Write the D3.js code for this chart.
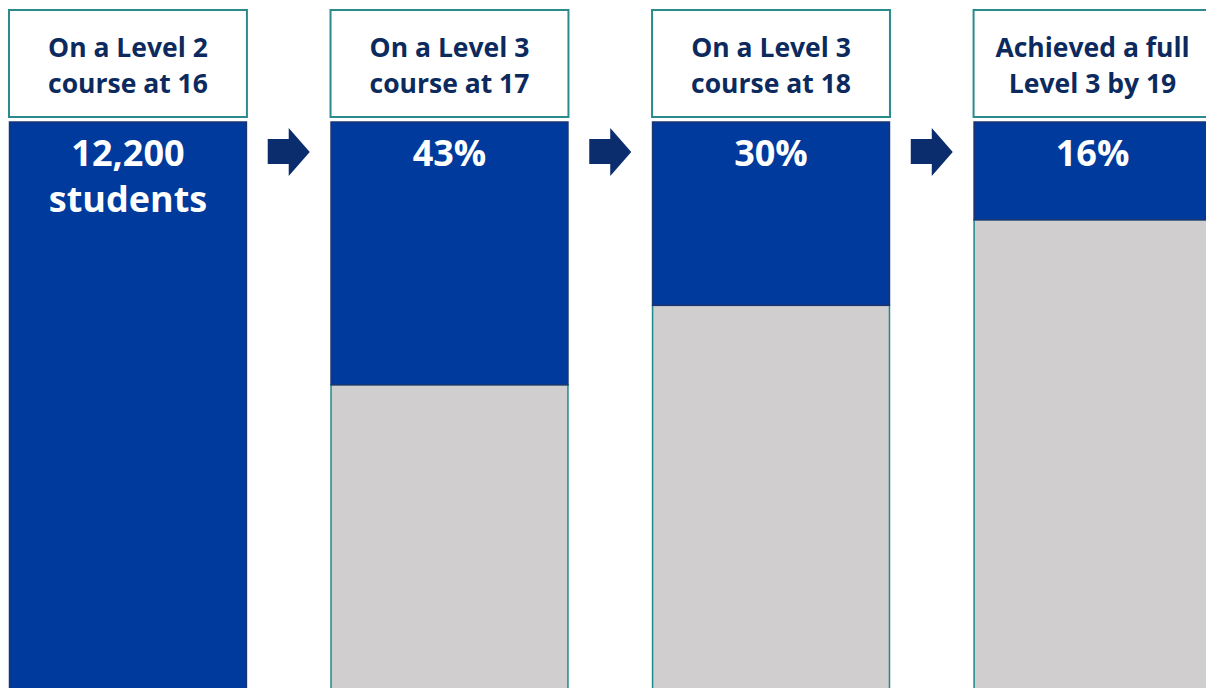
<!DOCTYPE html>
<html>
<head>
<meta charset="utf-8">
<script src="https://cdn.jsdelivr.net/npm/d3@7"></script>
<style>
  html, body { margin: 0; padding: 0; background: #ffffff; overflow: hidden; }
</style>
</head>
<body>
<div class="visHolder"></div>
<script>
// Stage labels (two lines each)
const stages = [
  ["On a Level 2", "course at 16"],
  ["On a Level 3", "course at 17"],
  ["On a Level 3", "course at 18"],
  ["Achieved a full", "Level 3 by 19"]
];
// Share of the original cohort still on track (%)
const shares = [100, 43, 30, 16];
// Text shown in the blue part
const valueLabels = [
  ["12,200", "students"],
  ["43%"],
  ["30%"],
  ["16%"]
];

const width = 1206;
const height = 688;

const svg = d3
  .select(".visHolder")
  .append("svg")
  .attr("width", width)
  .attr("height", height);

// Columns
const xScale = d3
  .scaleBand()
  .domain(d3.range(stages.length))
  .range([9, 1211.5])
  .paddingInner(0.26)
  .paddingOuter(0);

// Share from the top of the bar
const barTop = 122;
const yScale = d3.scaleLinear().domain([0, 100]).range([barTop, 733]);

const fontFamily = "'Open Sans', 'Noto Sans', sans-serif";

// Header boxes
svg
  .selectAll("rect.header")
  .data(stages)
  .enter()
  .append("rect")
  .attr("class", "header")
  .attr("x", (d, i) => xScale(i))
  .attr("y", 10)
  .attr("width", xScale.bandwidth())
  .attr("height", 107)
  .attr("fill", "#ffffff")
  .attr("stroke", "#2b8a8c")
  .attr("stroke-width", 2);

const headerText = svg
  .selectAll("text.header")
  .data(stages)
  .enter()
  .append("text")
  .attr("class", "header")
  .attr("x", (d, i) => xScale(i) + xScale.bandwidth() / 2)
  .attr("text-anchor", "middle")
  .style("font-family", fontFamily)
  .style("font-weight", "bold")
  .style("font-size", "26.5px")
  .attr("fill", "#0c2a5e");

headerText
  .selectAll("tspan")
  .data((d) => d)
  .enter()
  .append("tspan")
  .attr("x", function () {
    return d3.select(this.parentNode).attr("x");
  })
  .attr("y", (d, j) => 57 + j * 36)
  .text((d) => d);

// Grey remainder
svg
  .selectAll("rect.rest")
  .data(shares)
  .enter()
  .append("rect")
  .attr("class", "rest")
  .attr("x", (d, i) => xScale(i) + 0.5)
  .attr("y", (d) => yScale(d))
  .attr("width", xScale.bandwidth() - 1)
  .attr("height", (d) => yScale(100) - yScale(d))
  .attr("fill", "#d0cece")
  .attr("stroke", "#1f8a8c")
  .attr("stroke-width", 1.5);

// Blue share
svg
  .selectAll("rect.share")
  .data(shares)
  .enter()
  .append("rect")
  .attr("class", "share")
  .attr("x", (d, i) => xScale(i) + 0.5)
  .attr("y", barTop)
  .attr("width", xScale.bandwidth() - 1)
  .attr("height", (d) => yScale(d) - barTop)
  .attr("fill", "#003a9c")
  .attr("stroke", "#1c3470")
  .attr("stroke-width", 1.5);

// Values
const valueText = svg
  .selectAll("text.value")
  .data(valueLabels)
  .enter()
  .append("text")
  .attr("class", "value")
  .attr("x", (d, i) => xScale(i) + xScale.bandwidth() / 2)
  .attr("text-anchor", "middle")
  .style("font-family", fontFamily)
  .style("font-weight", "bold")
  .style("font-size", "36px")
  .attr("fill", "#ffffff");

valueText
  .selectAll("tspan")
  .data((d) => d)
  .enter()
  .append("tspan")
  .attr("x", function () {
    return d3.select(this.parentNode).attr("x");
  })
  .attr("y", (d, j) => 166 + j * 46)
  .text((d) => d);

// Arrows between columns
const arrow = d3.path();
arrow.moveTo(-21, -13);
arrow.lineTo(0, -13);
arrow.lineTo(0, -24);
arrow.lineTo(21, 0);
arrow.lineTo(0, 24);
arrow.lineTo(0, 12);
arrow.lineTo(-21, 12);
arrow.closePath();

svg
  .selectAll("path.arrow")
  .data(d3.range(stages.length - 1))
  .enter()
  .append("path")
  .attr("class", "arrow")
  .attr("d", arrow.toString())
  .attr("transform", (i) => {
    const cx = (xScale(i) + xScale.bandwidth() + xScale(i + 1)) / 2;
    return `translate(${cx}, 152)`;
  })
  .attr("fill", "#0b2d6e");
</script>
</body>
</html>
